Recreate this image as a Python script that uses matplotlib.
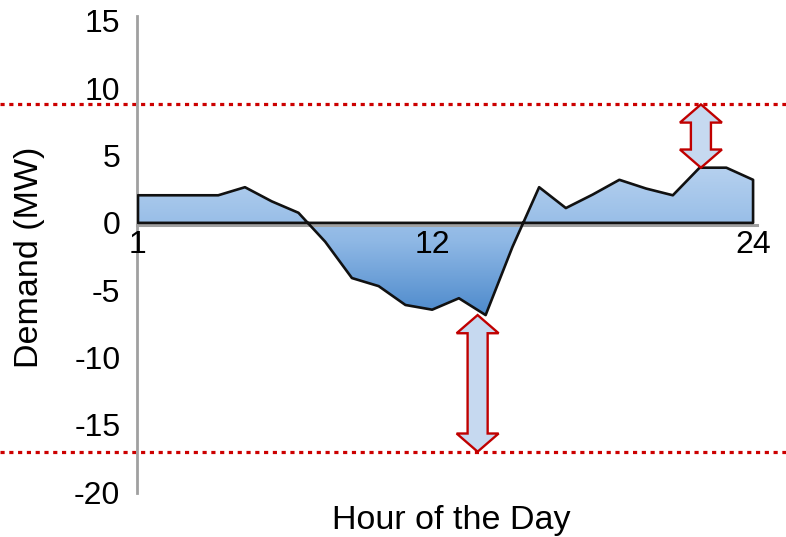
import numpy as np
import matplotlib
matplotlib.use("Agg")
import matplotlib.pyplot as plt
from matplotlib.patches import Polygon
from matplotlib.colors import LinearSegmentedColormap
from matplotlib.transforms import blended_transform_factory

# --- DATA ---
HOURS = list(range(1, 25))
DEMAND = [2.05, 2.05, 2.05, 2.05, 2.65, 1.6, 0.75, -1.4, -4.1, -4.7, -6.1, -6.45,
          -5.6, -6.85, -1.8, 2.65, 1.1, 2.1, 3.2, 2.55, 2.05, 4.1, 4.1, 3.2]
LIMITS = [8.8, -17.0]          # upper / lower demand limits (MW)
ARROW_HOURS = [22.05, 13.7]    # where the headroom arrows sit
XTICKS = [1, 12, 24]
YTICKS = [15, 10, 5, 0, -5, -10, -15, -20]

FONT = "Liberation Sans"
RED = "#cc0000"

fig = plt.figure(figsize=(7.86, 5.37), dpi=100, facecolor="white")
ax = fig.add_axes([137 / 786, 44 / 537, (775 - 137) / 786, (521 - 44) / 537])
ax.set_xlim(0.963, 24.82)
ax.set_ylim(-20.07, 15.37)

# area with vertical gradient
verts = [(HOURS[0], 0)] + list(zip(HOURS, DEMAND)) + [(HOURS[-1], 0)]
poly = Polygon(verts, closed=True, facecolor="none", edgecolor="#111111",
               linewidth=1.9, joinstyle="round", zorder=4)
ax.add_patch(poly)
cmap = LinearSegmentedColormap.from_list("grad", ["#4d8acc", "#8fb8e5", "#b6d1ef"])
top, bot = max(DEMAND), min(DEMAND)
grad = np.linspace(0, 1, 256).reshape(-1, 1)
img = ax.imshow(grad, cmap=cmap, origin="lower", aspect="auto",
                extent=[HOURS[0], HOURS[-1], bot, top], zorder=3)
img.set_clip_path(poly)

# limit lines across the whole figure
trans = blended_transform_factory(fig.transFigure, ax.transData)
for lim in LIMITS:
    ax.plot([0, 1], [lim, lim], transform=trans, clip_on=False, color=RED,
            linewidth=2.3, linestyle=(0, (1.3, 1.45)), dash_capstyle="butt", zorder=2)

# double headed block arrows between curve extremes and limits
def block_arrow(xc, y0, y1, shaft=0.75, head=1.57, head_len=1.35):
    s = np.sign(y1 - y0)
    pts = [(xc, y0), (xc + head / 2, y0 + s * head_len), (xc + shaft / 2, y0 + s * head_len),
           (xc + shaft / 2, y1 - s * head_len), (xc + head / 2, y1 - s * head_len), (xc, y1),
           (xc - head / 2, y1 - s * head_len), (xc - shaft / 2, y1 - s * head_len),
           (xc - shaft / 2, y0 + s * head_len), (xc - head / 2, y0 + s * head_len)]
    ax.add_patch(Polygon(pts, closed=True, facecolor="#c6d9f0", edgecolor="#c00000",
                         linewidth=1.7, zorder=6, clip_on=False))

block_arrow(ARROW_HOURS[0], max(DEMAND), LIMITS[0])
block_arrow(ARROW_HOURS[1], min(DEMAND), LIMITS[1])

# axes styling
for side in ["top", "right"]:
    ax.spines[side].set_visible(False)
ax.spines["left"].set_color("#a0a0a0")
ax.spines["left"].set_linewidth(2)
ax.spines["bottom"].set_position(("data", -0.13))
ax.spines["bottom"].set_color("#a0a0a0")
ax.spines["bottom"].set_linewidth(2.2)
ax.spines["bottom"].set_bounds(0.963, 24.15)
ax.spines["bottom"].set_zorder(3.5)
ax.xaxis.set_zorder(5)

ax.set_yticks(YTICKS)
ax.set_yticklabels([str(v) for v in YTICKS])
ax.set_xticks(XTICKS)
ax.set_xticklabels([str(v) for v in XTICKS])
ax.tick_params(axis="y", length=0, pad=12, labelsize=23)
ax.tick_params(axis="x", length=0, pad=4, labelsize=23)
for lab in ax.get_xticklabels() + ax.get_yticklabels():
    lab.set_fontfamily(FONT)

fig.text(451 / 786, 1 - 529 / 537, "Hour of the Day", ha="center", va="baseline",
         fontsize=24.5, family=FONT)
fig.text(30 / 786, 1 - 257 / 537, "Demand (MW)", ha="center", va="center",
         rotation=90, fontsize=24.5, family=FONT)

fig.savefig("out.png", dpi=100, facecolor="white")
